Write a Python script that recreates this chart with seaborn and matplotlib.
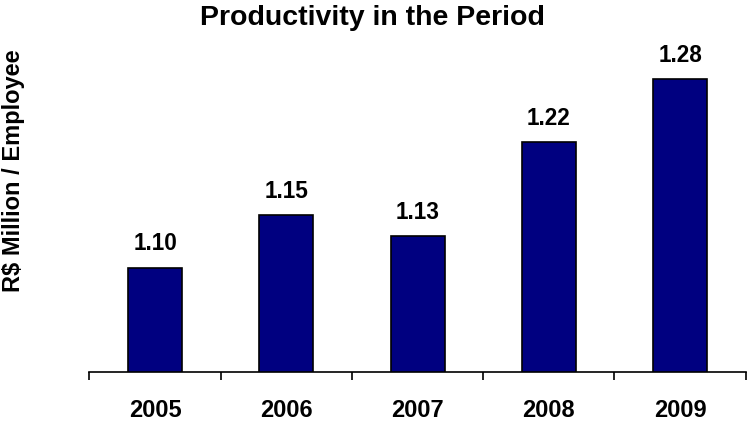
import matplotlib
matplotlib.use("Agg")
import matplotlib.pyplot as plt
from matplotlib.ticker import FixedLocator
import seaborn as sns
import pandas as pd

years = ["2005", "2006", "2007", "2008", "2009"]
productivity = [1.10, 1.15, 1.13, 1.22, 1.28]
value_labels = ["1.10", "1.15", "1.13", "1.22", "1.28"]

sns.set_theme(style="white")
plt.rcParams["font.family"] = ["Liberation Sans", "DejaVu Sans"]
plt.rcParams["text.color"] = "black"
plt.rcParams["axes.labelcolor"] = "black"
plt.rcParams["xtick.color"] = "black"

df = pd.DataFrame({"year": years, "value": productivity})

fig = plt.figure(figsize=(7.47, 4.24), dpi=100)
ax = fig.add_axes([0.1198, 0.1215, 0.8785, 0.7408])

sns.barplot(data=df, x="year", y="value", color="#000080", width=0.41,
            edgecolor="black", linewidth=1.2, saturation=1, ax=ax)

ax.set_ylim(1.0, 1.30)
ax.set_xlim(-0.5, len(years) - 0.5)

for i, (v, lab) in enumerate(zip(productivity, value_labels)):
    ax.annotate(lab, (i, v), xytext=(0, 9), textcoords="offset points",
                ha="center", va="bottom", fontsize=16.3, fontweight="bold",
                color="black")

for s in ["top", "right", "left"]:
    ax.spines[s].set_visible(False)
ax.spines["bottom"].set_color("black")
ax.spines["bottom"].set_linewidth(1.2)

ax.set_yticks([])
ax.tick_params(axis="x", which="major", length=0, pad=19, labelsize=17,
               labelcolor="black")
for t in ax.get_xticklabels():
    t.set_fontweight("bold")
ax.xaxis.set_minor_locator(FixedLocator([i - 0.5 for i in range(len(years) + 1)]))
ax.tick_params(axis="x", which="minor", bottom=True, length=6, width=1.2,
               color="black", direction="out")

ax.set_xlabel("")
ax.set_ylabel("R$ Million / Employee", fontsize=17, fontweight="bold",
              color="black", labelpad=0)
ax.yaxis.set_label_coords(-0.098, 0.643)

fig.suptitle("Productivity in the Period", x=0.4987, y=0.988, va="top",
             fontsize=20.5, fontweight="bold", color="black")

fig.savefig("out.png", dpi=100)
